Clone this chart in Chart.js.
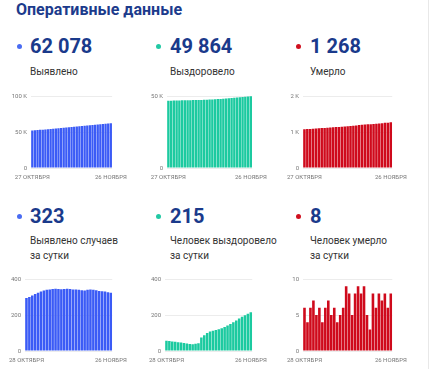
<!DOCTYPE html>
<html><head><meta charset="utf-8">
<script src="https://cdn.jsdelivr.net/npm/chart.js@4.4.1/dist/chart.umd.min.js"></script>
<style>
html,body{margin:0;padding:0;background:#fff;}
body{width:430px;height:369px;position:relative;overflow:hidden;font-family:Roboto,sans-serif;}
.t{position:absolute;white-space:nowrap;}
.title{left:16px;top:1px;font-size:16px;line-height:18px;font-weight:700;color:#1c3b8c;}
.num{font-size:20px;line-height:22px;font-weight:700;color:#1a3a8b;}
.lbl{font-size:10px;line-height:15px;color:#333;}
.dot{position:absolute;width:5px;height:5px;border-radius:50%;}
canvas{position:absolute;}
.edge{position:absolute;left:428px;top:0;width:1px;height:369px;background:#e8e8e8;}
</style></head><body>
<div class="t title">Оперативные данные</div>

<div class="dot" style="left:17px;top:44px;background:#4a6cf2"></div>
<div class="t num" style="left:30px;top:35px">62 078</div>
<div class="t lbl" style="left:30px;top:64px">Выявлено</div>

<div class="dot" style="left:156px;top:44px;background:#22c9a4"></div>
<div class="t num" style="left:170px;top:35px">49 864</div>
<div class="t lbl" style="left:170px;top:64px">Выздоровело</div>

<div class="dot" style="left:296px;top:44px;background:#d0101f"></div>
<div class="t num" style="left:310px;top:35px">1 268</div>
<div class="t lbl" style="left:310px;top:64px">Умерло</div>

<div class="dot" style="left:17px;top:214px;background:#4a6cf2"></div>
<div class="t num" style="left:30px;top:205px">323</div>
<div class="t lbl" style="left:30px;top:233px">Выявлено случаев<br>за сутки</div>

<div class="dot" style="left:156px;top:214px;background:#22c9a4"></div>
<div class="t num" style="left:170px;top:205px">215</div>
<div class="t lbl" style="left:170px;top:233px">Человек выздоровело<br>за сутки</div>

<div class="dot" style="left:296px;top:214px;background:#d0101f"></div>
<div class="t num" style="left:310px;top:205px">8</div>
<div class="t lbl" style="left:310px;top:233px">Человек умерло<br>за сутки</div>

<canvas id="c1" width="133" height="94" style="left:0px;top:88px"></canvas>
<canvas id="c2" width="133" height="94" style="left:140px;top:88px"></canvas>
<canvas id="c3" width="133" height="94" style="left:280px;top:88px"></canvas>
<canvas id="c4" width="133" height="94" style="left:0px;top:271px"></canvas>
<canvas id="c5" width="133" height="94" style="left:140px;top:271px"></canvas>
<canvas id="c6" width="133" height="94" style="left:280px;top:271px"></canvas>
<div class="edge"></div>

<script>
// Categories
const totalDates = ['27.10','28.10','29.10','30.10','31.10','01.11','02.11','03.11','04.11','05.11','06.11','07.11','08.11','09.11','10.11','11.11','12.11','13.11','14.11','15.11','16.11','17.11','18.11','19.11','20.11','21.11','22.11','23.11','24.11','25.11','26.11'];
const dailyDates = ['28.10','29.10','30.10','31.10','01.11','02.11','03.11','04.11','05.11','06.11','07.11','08.11','09.11','10.11','11.11','12.11','13.11','14.11','15.11','16.11','17.11','18.11','19.11','20.11','21.11','22.11','23.11','24.11','25.11','26.11'];

// Cumulative series
const casesTotal = [52073,52368,52668,52976,53292,53616,53946,54282,54622,54964,55308,55654,55999,56342,56687,57033,57377,57719,58060,58400,58738,59074,59414,59756,60096,60433,60767,61099,61429,61755,62078];
const recoveredTotal = [46713,46770,46825,46878,46929,46978,47025,47070,47112,47151,47188,47228,47271,47346,47434,47534,47642,47754,47870,47991,48118,48252,48394,48544,48704,48874,49054,49244,49442,49649,49864];
const deathsTotal = [1076,1082,1086,1092,1099,1104,1110,1114,1120,1127,1132,1138,1142,1147,1153,1162,1170,1175,1183,1192,1200,1209,1214,1217,1225,1231,1239,1246,1254,1260,1268];

// Daily series
const casesDaily = [295,300,308,316,324,330,336,340,342,344,346,345,343,345,346,344,342,341,340,338,336,340,342,340,337,334,332,330,326,323];
const recoveredDaily = [57,55,53,51,49,47,45,42,39,37,40,43,75,88,100,108,112,116,121,127,134,142,150,160,170,180,190,198,207,215];
const deathsDaily = [6,4,6,7,5,6,4,6,7,5,6,4,5,6,9,8,5,8,9,8,9,5,3,8,6,8,7,8,6,8];

// Tick labels
const totalXTicks = ['27 ОКТЯБРЯ','26 НОЯБРЯ'];
const dailyXTicks = ['28 ОКТЯБРЯ','26 НОЯБРЯ'];

function fmt(v){ return v >= 1000 ? (v/1000) + ' K' : String(v); }

function makeChart(id, labels, data, color, yMax, yStep, yWidth, xTicks){
  const n = labels.length;
  return new Chart(document.getElementById(id), {
    type:'bar',
    data:{labels:labels, datasets:[{data:data, backgroundColor:color, barPercentage:0.87, categoryPercentage:1, borderWidth:0}]},
    options:{
      responsive:false, animation:false, devicePixelRatio:1,
      layout:{padding:{top:8,right:16,left:0,bottom:0}},
      plugins:{legend:{display:false}, tooltip:{enabled:false}},
      scales:{
        x:{grid:{display:false, drawTicks:false}, border:{display:false},
           ticks:{autoSkip:false, maxRotation:0, minRotation:0, padding:6, color:'#777', font:{family:'Roboto', size:6},
             callback:(v,i)=> i===0 ? xTicks[0] : (i===n-1 ? xTicks[1] : '')},
           afterFit:s=>{ s.height = 14; }},
        y:{min:0, max:yMax, grid:{color:'#ececec', drawTicks:false, lineWidth:1}, border:{display:false},
           ticks:{stepSize:yStep, padding:4, color:'#777', font:{family:'Roboto', size:6}, callback:v=>fmt(v)},
           afterFit:s=>{ s.width = yWidth; }}
      }
    }
  });
}

makeChart('c1', totalDates, casesTotal, '#3b5bf6', 100000, 50000, 31, totalXTicks);
makeChart('c2', totalDates, recoveredTotal, '#1ccaa0', 50000, 50000, 27, totalXTicks);
makeChart('c3', totalDates, deathsTotal, '#cf0a1c', 2000, 1000, 23, totalXTicks);
makeChart('c4', dailyDates, casesDaily, '#3b5bf6', 400, 200, 25, dailyXTicks);
makeChart('c5', dailyDates, recoveredDaily, '#1ccaa0', 400, 200, 25, dailyXTicks);
makeChart('c6', dailyDates, deathsDaily, '#cf0a1c', 10, 5, 23, dailyXTicks);
</script>
</body></html>
